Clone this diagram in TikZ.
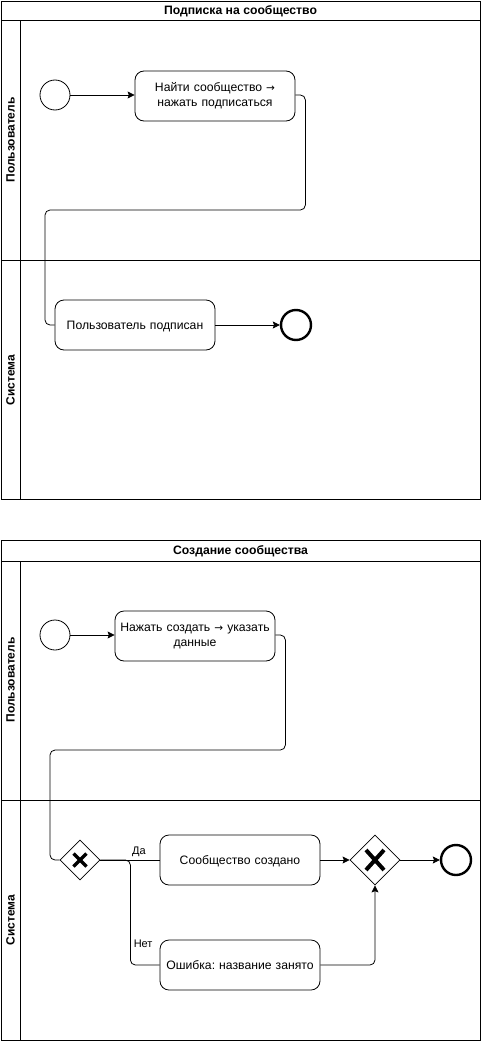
\documentclass[tikz,border=0pt]{standalone}
\usepackage{fontspec}
\setmainfont{Liberation Sans}
\newfontfamily\arrowfont{DejaVu Sans}
\newcommand{\toarrow}{{\arrowfont\fontsize{10.5}{13}\selectfont →}}
\usetikzlibrary{arrows.meta,shapes.geometric}
\begin{document}
\frenchspacing
\begin{tikzpicture}[x=1pt,y=-1pt,
  every node/.style={font=\fontsize{12.2}{15}\selectfont, inner sep=0pt},
  pool/.style={draw, line width=0.9pt},
  title/.style={font=\fontsize{12.2}{15}\selectfont\bfseries},
  lane/.style={font=\fontsize{12}{15}\selectfont\bfseries, rotate=90},
  task/.style={draw, rounded corners=9pt, minimum width=160pt, minimum height=50pt,
    align=center, text width=156pt, line width=0.8pt},
  onelinetask/.style={task, text depth=0pt},
  startev/.style={draw, circle, minimum size=30pt, line width=0.8pt},
  endev/.style={draw, circle, minimum size=30pt, line width=2.4pt},
  gate/.style={draw, diamond, aspect=1, line width=0.8pt},
  flow/.style={line width=0.8pt, rounded corners=5pt},
  arr/.style={flow, -{Stealth[length=7pt,width=7pt,inset=1.2pt]}},
  lbl/.style={font=\fontsize{11}{13}\selectfont},
]
\useasboundingbox (0,0) rectangle (481,1041);

% ---- Pool: subscription ----
\draw[pool] (1,1) rectangle (480,499);
\draw[pool] (1,20.5) -- (480,20.5);
\draw[pool] (20.5,20.5) -- (20.5,499);
\draw[pool] (1,260) -- (480,260);
\node[title] at (240.5,11.5) {Подписка на сообщество};
\node[lane] at (10.5,140) {Пользователь};
\node[lane] at (10.5,380) {Система};

\node[startev] (s1) at (55,95) {};
\node[task] (t1) at (215,96) {Найти сообщество \toarrow\\нажать подписаться};
\node[onelinetask] (t2) at (135,325) {Пользователь подписан};
\node[endev] (e1) at (296,325) {};

\draw[arr] (s1) -- (t1.west |- s1);
\draw[flow] (t1.east |- s1) -- ++(10,0) |- (45,210) |- (t2.west);
\draw[arr] (t2) -- (e1);

% ---- Pool: creating a community ----
\draw[pool] (1,540) rectangle (480,1040);
\draw[pool] (1,561) -- (480,561);
\draw[pool] (20.5,561) -- (20.5,1040);
\draw[pool] (1,800) -- (480,800);
\node[title] at (240.5,551) {Создание сообщества};
\node[lane] at (10.5,680) {Пользователь};
\node[lane] at (10.5,920) {Система};

\node[startev] (s2) at (55,635) {};
\node[task] (t3) at (195,636) {Нажать создать \toarrow\ указать\\данные};
\node[gate, minimum size=40pt] (g1) at (80,860) {};
\node[onelinetask] (t4) at (240,860) {Сообщество создано};
\node[onelinetask] (t5) at (240,965) {Ошибка: название занято};
\node[gate, minimum size=50pt] (g2) at (375,860) {};
\node[endev] (e2) at (456,860) {};

% exclusive gateway markers
\draw[line width=3.2pt] (g1.center) ++(-6.5,-6.5) -- ++(13,13);
\draw[line width=3.2pt] (g1.center) ++(6.5,-6.5) -- ++(-13,13);
\draw[line width=4pt] (g2.center) ++(-9,-10) -- ++(18,20);
\draw[line width=4pt] (g2.center) ++(9,-10) -- ++(-18,20);

\draw[arr] (s2) -- (t3.west |- s2);
\draw[flow] (t3.east |- s2) -- ++(10,0) |- (50,750) |- (g1.west);
\draw[flow] (g1.east) -- node[lbl, above=3pt, pos=0.65] {Да} (t4.west);
\draw[flow] (g1.east) -- ++(30,0) |- node[lbl, pos=0.4, right=3pt] {Нет} (t5.west);
\draw[arr] (t4) -- (g2);
\draw[arr] (t5.east) -| (g2.south);
\draw[arr] (g2) -- (e2);
\end{tikzpicture}
\end{document}
